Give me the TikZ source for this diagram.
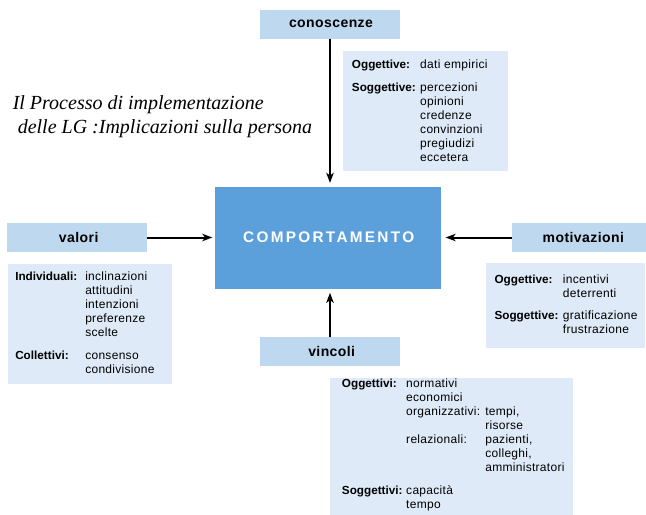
\documentclass[tikz,border=0pt]{standalone}
\usepackage{fontspec}
\usepackage{array}
\setmainfont{Liberation Serif}
\setsansfont{Liberation Sans}
\newfontfamily\detfont[LetterSpace=2.5]{Liberation Sans}
\newfontfamily\labfont{Liberation Sans}
\newfontfamily\headfont[LetterSpace=3]{Liberation Sans}
\newfontfamily\compfont[LetterSpace=15]{Liberation Sans}
\usetikzlibrary{arrows.meta}
\definecolor{headblue}{RGB}{190,216,239}
\definecolor{detblue}{RGB}{222,234,247}
\definecolor{compblue}{RGB}{91,160,219}
\newcommand{\dlab}[1]{{\labfont\bfseries\fontsize{8.8}{10.5}\selectfont #1}}
\begin{document}
\begin{tikzpicture}[x=0.75pt,y=-0.75pt,
  headbox/.style={fill=headblue, inner sep=0pt, minimum height=21.5pt},
  headtxt/.style={inner sep=0pt, font=\headfont\bfseries\fontsize{10.5}{12}\selectfont},
  detbox/.style={fill=detblue, inner sep=0pt},
  dettxt/.style={anchor=base west, inner sep=0pt, font=\detfont\fontsize{9}{10.5}\selectfont},
  titletxt/.style={anchor=base west, inner sep=0pt, font=\itshape\fontsize{15}{17}\selectfont},
  arr/.style={line width=1.5pt, -{Stealth[length=7.5pt,width=5.5pt,inset=2pt]}}
]
\useasboundingbox (0,0) rectangle (646,514);

% central box
\node[fill=compblue, inner sep=0pt, minimum width=169.5pt, minimum height=76.5pt] (comp) at (328.3,237.5) {};
\node[inner sep=0pt, text=white, font=\compfont\bfseries\fontsize{11.5}{13}\selectfont] (compt) at (328.7,237.5) {COMPORTAMENTO};

% heading boxes
\node[headbox, minimum width=105.5pt] (con) at (330,24.2) {};
\node[headtxt] (cont) at (331,24.2) {conoscenze};
\node[headbox, minimum width=104.5pt] (val) at (77,237.5) {};
\node[headtxt] (valt) at (78.7,237.5) {valori};
\node[headbox, minimum width=101pt] (mot) at (579.5,237.5) {};
\node[headtxt] (mott) at (583.3,237.5) {motivazioni};
\node[headbox, minimum width=105.5pt] (vin) at (330,351.5) {};
\node[headtxt] (vint) at (331.7,351.5) {vincoli};

% arrows
\draw[arr, shorten >=2.5pt] (con.south) -- (con.south |- comp.north);
\draw[arr, shorten >=2pt] (val.east) -- (comp.west |- val.east);
\draw[arr, shorten >=3pt] (mot.west) -- (comp.east |- mot.west);
\draw[arr, shorten >=3pt] (vin.north) -- (vin.north |- comp.south);

% title
\node[titletxt] (title1) at (12.5,109) {Il Processo di implementazione};
\node[titletxt] (title2) at (17.5,133.3) {delle LG :Implicazioni sulla persona};

% detail boxes
\node[detbox, minimum width=123.75pt, minimum height=89.6pt] (cond) at (425.7,110.8) {};
\node[detbox, minimum width=123pt, minimum height=90pt] (vald) at (90.3,324) {};
\node[detbox, minimum width=119.5pt, minimum height=63.3pt] (motd) at (565.5,305.5) {};
\node[detbox, minimum width=182.25pt, minimum height=106pt] (vind) at (451.5,449) {};

% detail texts
\node[dettxt] (cont2) at (351.7,68.3) {\begin{tabular}[t]{@{}p{51.2pt}@{}l@{}}
\dlab{Oggettive:} & dati empirici\\[6.6pt]
\dlab{Soggettive:} & percezioni\\
 & opinioni\\
 & credenze\\
 & convinzioni\\
 & pregiudizi\\
 & eccetera
\end{tabular}};

\node[dettxt] (valt2) at (15,280.7) {\begin{tabular}[t]{@{}p{52.5pt}@{}l@{}}
\dlab{Individuali:} & inclinazioni\\
 & attitudini\\
 & intenzioni\\
 & preferenze\\
 & scelte\\[6.6pt]
\dlab{Collettivi:} & consenso\\
 & condivisione
\end{tabular}};

\node[dettxt] (mott2) at (494.3,283.3) {\begin{tabular}[t]{@{}p{51.3pt}@{}l@{}}
\dlab{Oggettive:} & incentivi\\
 & deterrenti\\[5.8pt]
\dlab{Soggettive:} & gratificazione\\
 & frustrazione
\end{tabular}};

\node[dettxt] (vint2) at (341.7,387.7) {\begin{tabular}[t]{@{}p{48.2pt}@{}p{59.3pt}@{}l@{}}
\dlab{Oggettivi:} & normativi & \\
 & economici & \\
 & organizzativi: & tempi,\\
 & & risorse\\
 & relazionali: & pazienti,\\
 & & colleghi,\\
 & & amministratori\\[6.3pt]
\dlab{Soggettivi:} & capacità & \\
 & tempo &
\end{tabular}};
\end{tikzpicture}
\end{document}
